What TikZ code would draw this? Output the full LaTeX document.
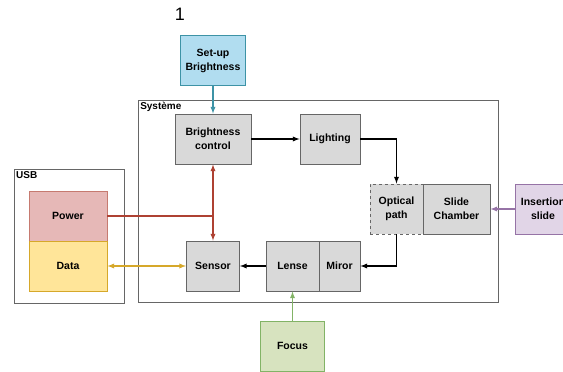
\documentclass[tikz,border=0pt]{standalone}
\usepackage{fontspec}
\setmainfont{Liberation Sans}
\usetikzlibrary{arrows}
\definecolor{boxfill}{HTML}{D9D9D9}
\definecolor{boxline}{HTML}{666666}
\definecolor{bluefill}{HTML}{B1DDF0}
\definecolor{blueline}{HTML}{3D93A6}
\definecolor{redfill}{HTML}{E6B8B7}
\definecolor{redline}{HTML}{AE4132}
\definecolor{goldfill}{HTML}{FFE599}
\definecolor{goldline}{HTML}{D6A82A}
\definecolor{greenfill}{HTML}{D7E3BF}
\definecolor{greenline}{HTML}{82B366}
\definecolor{lilacfill}{HTML}{E1D5E7}
\definecolor{lilacline}{HTML}{9673A6}
\tikzset{
  blk/.style={draw=boxline,fill=boxfill,line width=0.9pt,minimum height=50pt,
    inner sep=0pt,align=center,font=\fontsize{10.5}{14}\selectfont\bfseries},
  frame/.style={draw=boxline,line width=0.9pt,inner sep=0pt},
  tag/.style={anchor=north west,inner sep=2.5pt,font=\fontsize{10}{12}\selectfont\bfseries},
  link/.style={line width=1.3pt,->}
}
\begin{document}
\begin{tikzpicture}[x=1pt,y=-1pt,>=latex]
  \clip (0,0) rectangle (563,372);
  \node[font=\fontsize{18}{20}\selectfont] (num) at (180,14) {1};
  \node[frame,minimum width=360pt,minimum height=202pt] (sys) at (318,201) {};
  \node[tag] (systag) at (sys.north west) {Système};
  \node[frame,minimum width=110pt,minimum height=134pt] (usb) at (69,236) {};
  \node[tag] (usbtag) at (usb.north west) {USB};
  \node[blk,fill=bluefill,draw=blueline,minimum width=65pt] (setup) at (213,60.5) {Set-up\\Brightness};
  \node[blk,minimum width=76pt] (bright) at (213,139) {Brightness\\control};
  \node[blk,minimum width=60pt] (light) at (330,139) {Lighting};
  \node[blk,dashed,minimum width=53pt] (optical) at (396.5,209) {Optical\\path};
  \node[blk,minimum width=67pt] (chamber) at (456.5,209) {Slide\\Chamber};
  \node[blk,fill=lilacfill,draw=lilacline,minimum width=56pt] (insert) at (543,209) {Insertion\\slide};
  \node[blk,minimum width=53pt] (sensor) at (213,266) {Sensor};
  \node[blk,minimum width=53pt] (lense) at (292.5,266) {Lense};
  \node[blk,minimum width=41pt] (miror) at (339.5,266) {Miror};
  \node[blk,fill=redfill,draw=redline!70,minimum width=78pt] (power) at (68,216) {Power};
  \node[blk,fill=goldfill,draw=goldline,minimum width=78pt] (data) at (68,266) {Data};
  \node[blk,fill=greenfill,draw=greenline,minimum width=64pt] (focus) at (292.5,346) {Focus};
  \draw[link,blueline] (setup) -- (bright);
  \draw[link] (bright) -- (light);
  \draw[link] (light.east) -| (optical.north);
  \draw[link] (optical.south) |- (miror.east);
  \draw[link] (lense) -- (sensor);
  \draw[link,lilacline] (insert) -- (chamber);
  \draw[link,greenline] (focus) -- (lense);
  \draw[link,goldline,<->] (data) -- (sensor);
  \coordinate (pj) at (bright.south |- power.east);
  \draw[line width=1.3pt,redline] (power.east) -- (pj);
  \draw[link,redline] (pj) -- (bright.south);
  \draw[link,redline] (pj) -- (sensor.north);
\end{tikzpicture}
\end{document}
